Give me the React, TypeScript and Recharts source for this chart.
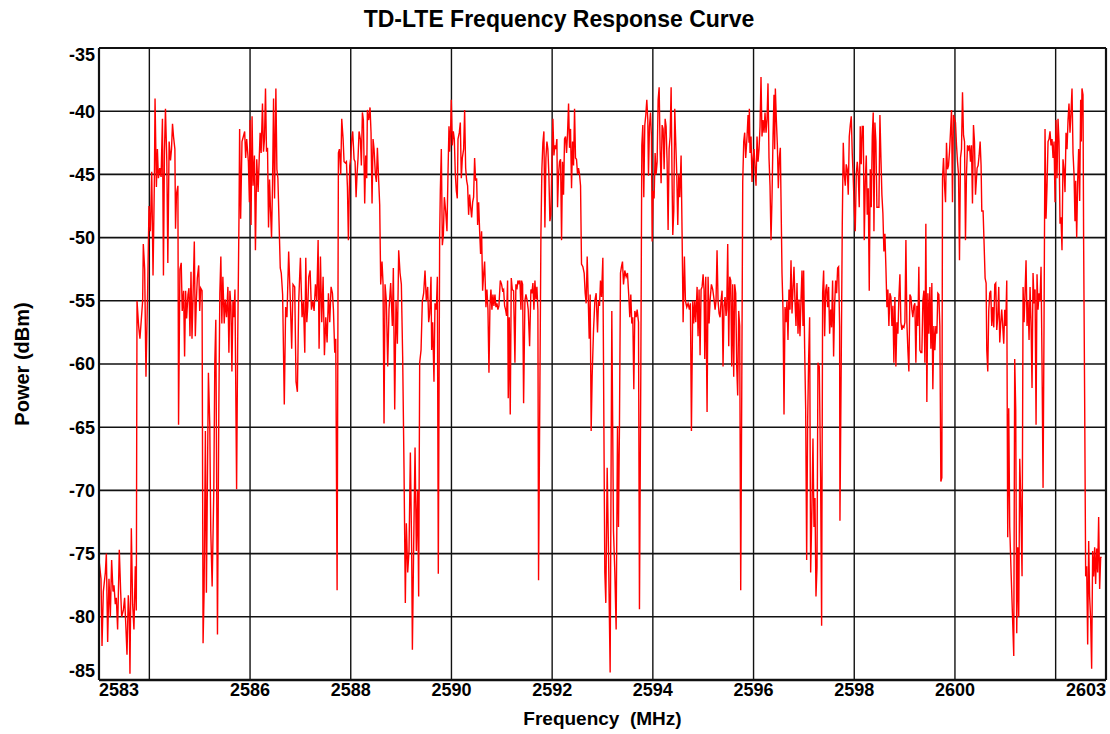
import React from 'react';
import { LineChart, Line, XAxis, YAxis, ReferenceLine } from 'recharts';

// Axis ticks and grid positions
const X_TICKS = [2583, 2586, 2588, 2590, 2592, 2594, 2596, 2598, 2600, 2603];
const X_GRID = [2584, 2586, 2588, 2590, 2592, 2594, 2596, 2598, 2600, 2602];
const Y_TICKS = [-85, -80, -75, -70, -65, -60, -55, -50, -45, -40, -35];
const Y_GRID = [-40, -45, -50, -55, -60, -65, -70, -75, -80];

const SEG_2583 = [
  [2583.0, -75.5], [2583.04, -77], [2583.06, -82.3], [2583.086, -78], [2583.126, -76.5], [2583.146, -75],
  [2583.172, -82], [2583.198, -77], [2583.225, -80], [2583.251, -75.5], [2583.278, -78], [2583.298, -77.5],
  [2583.324, -79], [2583.344, -78.5], [2583.37, -81], [2583.403, -74.7], [2583.43, -78], [2583.45, -80],
  [2583.483, -79.5], [2583.509, -78.5], [2583.536, -81], [2583.556, -83], [2583.582, -78.3], [2583.602, -80],
  [2583.615, -84.5], [2583.642, -73], [2583.668, -79], [2583.694, -81], [2583.721, -76], [2583.741, -79.5],
];

const SEG_2584 = [
  [2583.755, -55], [2583.787, -57], [2583.813, -58], [2583.84, -56.5], [2583.867, -55], [2583.88, -50.5],
  [2583.907, -52.5], [2583.933, -61], [2583.967, -54], [2583.993, -47.5], [2584.02, -49.5], [2584.047, -44.8],
  [2584.073, -53], [2584.1, -45.5], [2584.113, -39], [2584.14, -46], [2584.16, -43], [2584.18, -45.3],
  [2584.207, -44.5], [2584.233, -45.2], [2584.26, -40.6], [2584.28, -53], [2584.3, -43.2], [2584.32, -39.8],
  [2584.347, -44], [2584.367, -52], [2584.393, -42.4], [2584.42, -43.9], [2584.44, -43], [2584.46, -41],
  [2584.48, -42], [2584.507, -43], [2584.52, -49.3], [2584.54, -46.5], [2584.567, -45.9], [2584.58, -64.8],
  [2584.607, -52.5], [2584.633, -52], [2584.653, -55.8], [2584.68, -54.2], [2584.7, -59.4], [2584.72, -54.2],
  [2584.74, -56.4], [2584.767, -54.5], [2584.787, -54], [2584.807, -57.8], [2584.827, -52.7], [2584.847, -58],
  [2584.867, -54.8], [2584.893, -50.3], [2584.913, -57.8], [2584.933, -55.1], [2584.953, -53.2], [2584.98, -52.2],
  [2585.0, -55.8], [2585.02, -54], [2585.047, -54.2],
];

const SEG_2585 = [
  [2585.067, -82.1], [2585.087, -78.1], [2585.113, -65.3], [2585.133, -78.1], [2585.173, -60.7], [2585.2, -64.8],
  [2585.22, -73.2], [2585.247, -77.6], [2585.28, -70], [2585.3, -59.9], [2585.32, -56.5], [2585.353, -81.4],
  [2585.38, -63.5], [2585.4, -54.4], [2585.42, -51.5], [2585.44, -56.8], [2585.46, -53.1], [2585.487, -56.8],
  [2585.507, -54.9], [2585.533, -56.3], [2585.56, -53.9], [2585.58, -59.1], [2585.6, -54.2], [2585.62, -55.4],
  [2585.64, -60.6], [2585.66, -55], [2585.68, -56.3], [2585.7, -54.1], [2585.733, -69.9], [2585.753, -58.9],
  [2585.78, -48.5], [2585.793, -41.4], [2585.813, -48.5], [2585.84, -42.4], [2585.867, -42], [2585.893, -41.6],
  [2585.913, -43.7], [2585.933, -42.2], [2585.967, -44], [2585.987, -47.2], [2586.0, -40.7], [2586.02, -49],
  [2586.04, -40.4], [2586.06, -45.9], [2586.087, -43.5], [2586.107, -51], [2586.133, -43.8], [2586.16, -46.4],
  [2586.18, -44], [2586.2, -41.7], [2586.22, -43.3], [2586.247, -39.4], [2586.267, -43.2], [2586.287, -42.2],
  [2586.307, -38.2], [2586.327, -43.2], [2586.347, -42.9], [2586.367, -49.2], [2586.387, -45.4], [2586.407, -47.9],
  [2586.427, -50], [2586.447, -45.7], [2586.467, -39], [2586.487, -46.9], [2586.513, -38.2], [2586.533, -44.6],
  [2586.553, -45.3], [2586.6, -52.4], [2586.62, -52.8], [2586.647, -54.5], [2586.68, -63.2], [2586.707, -55.5],
  [2586.733, -56.3], [2586.767, -51.1], [2586.8, -55], [2586.827, -58.8], [2586.853, -53.7], [2586.887, -53.9],
  [2586.913, -61.4], [2586.94, -62.2], [2586.967, -55], [2587.0, -51.6], [2587.033, -56.3], [2587.06, -55],
];

const SEG_2587 = [
  [2587.087, -59.1], [2587.107, -51.6], [2587.127, -56.7], [2587.147, -55.4], [2587.166, -53.1], [2587.193, -52.6],
  [2587.219, -55.7], [2587.246, -55], [2587.272, -55.8], [2587.299, -53.7], [2587.325, -55], [2587.352, -50.2],
  [2587.371, -58.8], [2587.398, -51.5], [2587.424, -56.7], [2587.451, -53.1], [2587.477, -59.3], [2587.504, -56.3],
  [2587.53, -58.3], [2587.557, -54.4], [2587.583, -56.7], [2587.609, -53.9], [2587.636, -54.4], [2587.656, -55.7],
  [2587.682, -59.1], [2587.702, -58], [2587.729, -77.9], [2587.755, -43.3], [2587.775, -43], [2587.801, -45],
  [2587.821, -40.6], [2587.848, -42.2], [2587.867, -44], [2587.894, -44.1], [2587.914, -44], [2587.934, -46],
  [2587.953, -50.2], [2587.98, -44.3], [2588.0, -43.7], [2588.02, -42.2], [2588.039, -41.6], [2588.066, -43.8],
  [2588.086, -44], [2588.106, -46.8], [2588.125, -45], [2588.145, -43.7], [2588.165, -41.6], [2588.191, -42.2],
  [2588.211, -44.3], [2588.231, -40.1], [2588.251, -40.7], [2588.277, -47.3], [2588.297, -43.5], [2588.317, -45.3],
  [2588.33, -39.9], [2588.357, -40.7], [2588.383, -39.7], [2588.403, -41.7], [2588.423, -47.3], [2588.443, -42.2],
  [2588.463, -43], [2588.489, -45], [2588.509, -45.6], [2588.529, -42.9], [2588.555, -45.5], [2588.575, -47.4],
  [2588.595, -53.7], [2588.621, -51.9], [2588.641, -53.6], [2588.661, -64.7], [2588.681, -53.7], [2588.707, -55],
  [2588.734, -60.2], [2588.76, -55.7], [2588.793, -53.6], [2588.826, -57], [2588.846, -52.4], [2588.873, -63.6],
  [2588.899, -55], [2588.926, -58.4], [2588.952, -51], [2588.979, -52.8], [2589.005, -53.7], [2589.031, -59.4],
  [2589.058, -68.3], [2589.084, -78.9], [2589.104, -72.6],
];

const SEG_2589 = [
  [2589.131, -76.5], [2589.157, -74.8], [2589.184, -67], [2589.21, -74.8], [2589.224, -82.6], [2589.25, -74.3],
  [2589.277, -66.6], [2589.303, -74.8], [2589.329, -70], [2589.349, -78.4], [2589.369, -59.9], [2589.396, -58.9],
  [2589.422, -55], [2589.448, -54.4], [2589.475, -52.6], [2589.501, -55], [2589.528, -53.9], [2589.548, -56.7],
  [2589.568, -56], [2589.594, -53.1], [2589.607, -58.9], [2589.627, -56.7], [2589.653, -61.4], [2589.673, -55.2],
  [2589.7, -55.7], [2589.72, -53.1], [2589.739, -76.6], [2589.766, -49.8], [2589.779, -46.3], [2589.799, -43],
  [2589.819, -50.6], [2589.839, -49.8], [2589.859, -46.8], [2589.885, -47.9], [2589.911, -49.5], [2589.931, -45],
  [2589.951, -41.2], [2589.964, -43.2], [2589.984, -41.4], [2589.997, -39.1], [2590.017, -42.7], [2590.037, -41.6],
  [2590.057, -42.2], [2590.077, -45], [2590.097, -46.3], [2590.116, -46.9], [2590.13, -42.2], [2590.156, -41.7],
  [2590.176, -40.9], [2590.196, -45.3], [2590.216, -43.7], [2590.242, -43], [2590.262, -39.9], [2590.282, -44.5],
  [2590.302, -45.5], [2590.321, -45.9], [2590.341, -48.2], [2590.361, -46.6], [2590.381, -47.6], [2590.401, -48.4],
  [2590.421, -47.2], [2590.44, -46.8], [2590.46, -43.7], [2590.48, -45.5], [2590.5, -45.3], [2590.52, -49],
  [2590.54, -47.2], [2590.56, -49.5], [2590.579, -51.3], [2590.599, -49.5], [2590.619, -54.2], [2590.639, -52.9],
  [2590.659, -51.9], [2590.685, -55.5], [2590.705, -54.1], [2590.725, -55.7], [2590.745, -60.7], [2590.765, -55.4],
  [2590.784, -54.1], [2590.804, -55.7], [2590.824, -54.5], [2590.844, -55.4], [2590.864, -54.5], [2590.884, -55.5],
  [2590.904, -55.2], [2590.923, -55.7], [2590.943, -55.4], [2590.97, -53.4], [2590.996, -53.7], [2591.016, -54.2],
  [2591.036, -54.1], [2591.056, -55.4], [2591.075, -55.7], [2591.095, -56.2], [2591.115, -53.4], [2591.128, -62.7],
  [2591.148, -56.3], [2591.168, -64], [2591.188, -53.2], [2591.208, -54.1], [2591.234, -54.2], [2591.261, -59.9],
  [2591.28, -53.7], [2591.3, -54.1], [2591.32, -53.4], [2591.34, -53.6], [2591.36, -53.4], [2591.38, -55.7],
];

const SEG_2591 = [
  [2591.393, -53.4], [2591.413, -53.7], [2591.433, -63.1], [2591.459, -55], [2591.479, -54.5], [2591.505, -55],
  [2591.525, -55.7], [2591.552, -58.6], [2591.578, -54.1], [2591.598, -54.4], [2591.618, -53.6], [2591.638, -55.7],
  [2591.658, -53.4], [2591.677, -54.9], [2591.697, -53.9], [2591.717, -55.7], [2591.73, -77.1], [2591.757, -61.5],
  [2591.777, -49.8], [2591.796, -44.6], [2591.816, -42.5], [2591.836, -41.6], [2591.856, -49.2], [2591.876, -43.7],
  [2591.896, -42.4], [2591.915, -43], [2591.935, -45], [2591.955, -48.7], [2591.975, -48.2], [2591.995, -44],
  [2592.015, -40.6], [2592.035, -43.5], [2592.054, -42.7], [2592.074, -43], [2592.094, -42.2], [2592.107, -47.6],
  [2592.127, -45], [2592.147, -44], [2592.167, -43.8], [2592.187, -50.2], [2592.206, -44], [2592.226, -46.6],
  [2592.246, -42.2], [2592.266, -42], [2592.286, -43.3], [2592.306, -41.7], [2592.326, -39.4], [2592.345, -42.9],
  [2592.365, -41.4], [2592.385, -46.1], [2592.405, -42.4], [2592.425, -44.3], [2592.445, -39.8], [2592.464, -43.7],
  [2592.484, -43.8], [2592.504, -45], [2592.524, -44.5], [2592.544, -45], [2592.564, -45.9], [2592.583, -52.1],
  [2592.61, -52.3], [2592.636, -52.8], [2592.656, -54.4], [2592.676, -55.2], [2592.696, -51.5], [2592.716, -54.7],
  [2592.736, -58], [2592.755, -54.5], [2592.775, -65.3], [2592.795, -60.9], [2592.822, -57.3], [2592.848, -55],
  [2592.874, -54.4], [2592.901, -57.5], [2592.921, -55], [2592.941, -55.4], [2592.96, -53.4], [2592.98, -54.7],
  [2593.007, -51.6], [2593.046, -76.5], [2593.066, -78.9], [2593.093, -68.2], [2593.119, -74.8], [2593.152, -84.4],
  [2593.185, -55.8], [2593.218, -73.2], [2593.245, -76.5], [2593.271, -81], [2593.298, -64.9], [2593.317, -72.9],
  [2593.337, -64.9], [2593.357, -52.8], [2593.377, -52.3], [2593.397, -51.9], [2593.417, -53.7], [2593.443, -52.6],
  [2593.47, -53.1], [2593.496, -52.8], [2593.523, -54.7], [2593.542, -56.3], [2593.562, -54.5], [2593.582, -56.8],
  [2593.602, -56.3], [2593.622, -62], [2593.642, -55.8], [2593.668, -56.3], [2593.688, -55.7],
];

const SEG_2593 = [
  [2593.715, -56.7], [2593.734, -79.4], [2593.761, -60.6], [2593.781, -42.7], [2593.801, -41.1], [2593.82, -46.8],
  [2593.84, -41.1], [2593.86, -40.3], [2593.88, -39.1], [2593.9, -40.7], [2593.913, -45.1], [2593.933, -41.2],
  [2593.953, -40.1], [2593.972, -42], [2593.986, -50.3], [2594.006, -46.3], [2594.025, -46.9], [2594.045, -43.3],
  [2594.065, -45], [2594.085, -44], [2594.105, -39.1], [2594.125, -38.1], [2594.144, -43], [2594.164, -45.7],
  [2594.184, -41.1], [2594.204, -41.4], [2594.224, -44.6], [2594.244, -40.6], [2594.263, -41.2], [2594.283, -44],
  [2594.303, -49.4], [2594.323, -43], [2594.343, -42], [2594.363, -38.1], [2594.383, -45.9], [2594.396, -49.8],
  [2594.416, -47.9], [2594.435, -39.8], [2594.455, -42.5], [2594.475, -45], [2594.495, -49], [2594.515, -45],
  [2594.535, -46.8], [2594.561, -43.5], [2594.581, -49.8], [2594.601, -56.7], [2594.627, -51.5], [2594.647, -55],
  [2594.674, -55.5], [2594.7, -55.2], [2594.726, -55.7], [2594.746, -55.2], [2594.766, -65.3], [2594.793, -55],
  [2594.812, -56.8], [2594.832, -55], [2594.852, -56.7], [2594.879, -53.9], [2594.898, -57.8], [2594.918, -54.1],
  [2594.938, -59.3], [2594.958, -54.1], [2594.978, -53.9], [2594.998, -52.9], [2595.017, -54.1], [2595.031, -59.6],
  [2595.051, -53.1], [2595.077, -63.8], [2595.097, -53.1], [2595.117, -56.8], [2595.136, -55], [2595.163, -53.7],
  [2595.189, -54.1], [2595.216, -54.9], [2595.236, -55.7], [2595.255, -55], [2595.275, -51], [2595.295, -55],
  [2595.315, -56], [2595.335, -56.3], [2595.355, -55], [2595.375, -54.2], [2595.394, -60.2], [2595.414, -55.4],
  [2595.434, -54.7], [2595.454, -56.2], [2595.467, -55.7], [2595.487, -50.5], [2595.507, -58.6], [2595.527, -53.1],
  [2595.547, -53.4], [2595.566, -60.2], [2595.586, -53.7], [2595.606, -61], [2595.626, -53.7], [2595.646, -54.4],
  [2595.666, -60.2], [2595.685, -62.5], [2595.705, -55.8], [2595.725, -57], [2595.745, -77.9], [2595.765, -62.8],
  [2595.785, -45.6], [2595.805, -42.4], [2595.824, -41.7], [2595.844, -43.7], [2595.871, -42], [2595.891, -40.3],
  [2595.91, -42.5],
];

const SEG_2596 = [
  [2595.917, -39.8], [2595.93, -43.3], [2595.95, -42], [2595.97, -45.6], [2595.99, -43.7], [2596.01, -43],
  [2596.029, -44.5], [2596.049, -45.9], [2596.069, -42], [2596.089, -44], [2596.109, -43], [2596.129, -41.2],
  [2596.148, -37.3], [2596.168, -42], [2596.188, -40.7], [2596.208, -41.7], [2596.228, -40.1], [2596.248, -41.7],
  [2596.268, -40.6], [2596.287, -37.8], [2596.307, -43.7], [2596.327, -45.9], [2596.347, -50.2], [2596.367, -46.8],
  [2596.387, -42], [2596.406, -38.7], [2596.42, -43], [2596.433, -38.2], [2596.453, -40.7], [2596.473, -42.7],
  [2596.492, -46.1], [2596.512, -43.7], [2596.532, -42.9], [2596.545, -46.8], [2596.565, -52.8], [2596.585, -55.7],
  [2596.605, -64], [2596.625, -55.5], [2596.645, -56.7], [2596.664, -55], [2596.684, -58.1], [2596.704, -54.1],
  [2596.724, -55.7], [2596.744, -51.8], [2596.764, -56], [2596.783, -54.1], [2596.803, -52.3], [2596.823, -55],
  [2596.843, -57], [2596.863, -53.6], [2596.883, -57.6], [2596.902, -54.9], [2596.922, -57.8], [2596.942, -55],
  [2596.962, -52.6], [2596.982, -57], [2596.995, -52.6], [2597.015, -58.8], [2597.035, -63.5], [2597.055, -75.5],
  [2597.074, -64.7], [2597.094, -59.6], [2597.114, -56.3], [2597.134, -76.5], [2597.16, -71.3], [2597.18, -65.9],
  [2597.2, -72.9], [2597.22, -70.6], [2597.24, -78.4], [2597.26, -76.1], [2597.279, -59.9], [2597.306, -60.2],
  [2597.332, -69], [2597.352, -80.7], [2597.372, -54.4], [2597.392, -52.6], [2597.412, -57.8], [2597.431, -54.2],
  [2597.451, -53.7], [2597.471, -55.5], [2597.491, -53.9], [2597.511, -57.6], [2597.531, -55.7], [2597.55, -57.1],
  [2597.57, -53.4], [2597.59, -59.4], [2597.61, -55.4], [2597.63, -53.4], [2597.65, -54.4], [2597.67, -52.4],
  [2597.689, -52.3], [2597.709, -57], [2597.716, -72.4], [2597.742, -59.6], [2597.762, -49], [2597.782, -42.5],
  [2597.802, -45], [2597.822, -45.9], [2597.841, -44.2], [2597.861, -44.6], [2597.881, -46.6], [2597.901, -42],
  [2597.921, -41.1], [2597.941, -40.4], [2597.96, -43.3], [2597.98, -45.3], [2598.0, -47.7], [2598.02, -49.5],
  [2598.04, -45], [2598.06, -44], [2598.08, -45], [2598.099, -47.6], [2598.119, -41.2], [2598.139, -44.2],
  [2598.159, -41.2],
];

const SEG_2598 = [
  [2598.179, -41.2], [2598.199, -50.2], [2598.219, -45.6], [2598.239, -43.5], [2598.258, -48.2], [2598.278, -46.1],
  [2598.298, -54.2], [2598.318, -44.6], [2598.338, -47.6], [2598.358, -42], [2598.377, -40.1], [2598.391, -49.5],
  [2598.41, -40.9], [2598.43, -42.4], [2598.45, -47.6], [2598.47, -47.6], [2598.49, -47.6], [2598.51, -40.3],
  [2598.53, -43.7], [2598.549, -46.6], [2598.569, -48.1], [2598.589, -51.1], [2598.609, -49.7], [2598.629, -52.4],
  [2598.649, -55.5], [2598.668, -54.1], [2598.688, -57], [2598.708, -54.4], [2598.728, -54.7], [2598.748, -57],
  [2598.768, -55.4], [2598.787, -59.9], [2598.807, -54.7], [2598.827, -60.2], [2598.847, -56.7], [2598.867, -57.6],
  [2598.887, -54.7], [2598.907, -52.9], [2598.926, -56.7], [2598.946, -57.3], [2598.966, -57], [2598.986, -57.1],
  [2599.006, -56.7], [2599.026, -50.2], [2599.045, -56.7], [2599.065, -58.9], [2599.085, -60.6], [2599.105, -54.5],
  [2599.125, -54.7], [2599.145, -55.7], [2599.164, -56.3], [2599.184, -55.4], [2599.204, -55.2], [2599.224, -59.9],
  [2599.244, -55.4], [2599.264, -57], [2599.283, -52.3], [2599.303, -58.9], [2599.323, -59.1], [2599.343, -59.1],
  [2599.363, -55], [2599.383, -54.2], [2599.403, -59.9], [2599.422, -48.9], [2599.442, -63], [2599.462, -54.4],
  [2599.482, -57.6], [2599.502, -53.9], [2599.522, -58.8], [2599.541, -53.6], [2599.561, -62], [2599.581, -57],
  [2599.601, -58.9], [2599.621, -57], [2599.641, -57.6], [2599.66, -54.4], [2599.68, -54.5], [2599.7, -57],
  [2599.72, -69.3], [2599.74, -69], [2599.753, -45.3], [2599.773, -43.7], [2599.793, -45.9], [2599.813, -47.2],
  [2599.832, -42.5], [2599.852, -44.6], [2599.872, -44.3], [2599.892, -43.2], [2599.912, -41.6], [2599.932, -39.9],
  [2599.951, -47.2], [2599.971, -40.3], [2599.991, -40.6], [2600.011, -40.9], [2600.031, -42.7], [2600.051, -44],
  [2600.071, -45], [2600.09, -51.8], [2600.11, -43.7], [2600.13, -43], [2600.15, -38.5], [2600.17, -41.9],
  [2600.19, -42.4], [2600.209, -50.2], [2600.229, -45], [2600.249, -42.7], [2600.269, -43], [2600.289, -42.7],
  [2600.309, -44], [2600.328, -42.7], [2600.348, -47.3], [2600.368, -41.1], [2600.388, -42.4], [2600.408, -46.6],
];

const SEG_2600 = [
  [2600.44, -44.5], [2600.46, -44.3], [2600.48, -43.5], [2600.5, -42.4], [2600.519, -44.3], [2600.533, -47.9],
  [2600.559, -47.9], [2600.579, -50.5], [2600.599, -53.2], [2600.619, -53.6], [2600.632, -58.9], [2600.652, -60.6],
  [2600.671, -55.8], [2600.691, -54.4], [2600.711, -54.2], [2600.731, -57], [2600.751, -55.5], [2600.771, -57.1],
  [2600.791, -53.7], [2600.81, -53.6], [2600.83, -57.3], [2600.85, -56.3], [2600.87, -53.9], [2600.89, -58.3],
  [2600.91, -56.7], [2600.929, -55.7], [2600.949, -57], [2600.969, -58.4], [2600.989, -55.7], [2601.009, -57],
  [2601.029, -53.4], [2601.048, -73.7], [2601.068, -63.5], [2601.088, -72.9], [2601.115, -76.5], [2601.141, -79.7],
  [2601.168, -83.1], [2601.187, -59.6], [2601.207, -63.6], [2601.227, -81.3], [2601.247, -74.5], [2601.267, -80],
  [2601.287, -67.5], [2601.306, -70.6], [2601.333, -76.8], [2601.353, -53.9], [2601.373, -56.7], [2601.392, -54.4],
  [2601.412, -51.8], [2601.432, -57], [2601.452, -55], [2601.472, -58.1], [2601.492, -53.9], [2601.511, -56.7],
  [2601.531, -61.9], [2601.551, -52.8], [2601.571, -55.2], [2601.591, -54.1], [2601.611, -64.8], [2601.63, -52.9],
  [2601.65, -55.7], [2601.67, -54.4], [2601.69, -55], [2601.71, -52.3], [2601.73, -60.2], [2601.75, -69.8],
  [2601.769, -57], [2601.789, -41.4], [2601.809, -48.5], [2601.829, -45.9], [2601.849, -42.4], [2601.869, -42.2],
  [2601.888, -41.6], [2601.908, -42.7], [2601.928, -42.2], [2601.948, -43.7], [2601.968, -42.4], [2601.988, -47.2],
  [2602.007, -40.7], [2602.027, -45.3], [2602.047, -40.6], [2602.067, -42.4], [2602.087, -48.9], [2602.107, -48.4],
  [2602.126, -51], [2602.146, -43.8], [2602.166, -44.6], [2602.186, -46.4], [2602.206, -41.7], [2602.226, -43],
  [2602.246, -40.7], [2602.265, -39.4], [2602.285, -41.7], [2602.305, -40.1], [2602.325, -38.2], [2602.345, -43.3],
  [2602.365, -45], [2602.384, -48.7], [2602.398, -45.5], [2602.418, -50], [2602.437, -45.6], [2602.457, -43],
  [2602.477, -47.1], [2602.497, -39.1], [2602.51, -42.4], [2602.523, -38.2], [2602.543, -38.7], [2602.556, -50.5],
  [2602.576, -62.8], [2602.596, -76.8], [2602.616, -76], [2602.636, -82.2], [2602.656, -74], [2602.675, -78.4],
  [2602.695, -80.2], [2602.715, -84.1], [2602.735, -74.8], [2602.755, -76.8], [2602.775, -74.5], [2602.794, -77.4],
  [2602.814, -74.6], [2602.834, -76.5], [2602.854, -72.1], [2602.874, -77.8], [2602.894, -75.3], [2602.914, -75.3],
];

const SEGMENTS = [
  SEG_2583, SEG_2584, SEG_2585, SEG_2587, SEG_2589, SEG_2591,
  SEG_2593, SEG_2596, SEG_2598, SEG_2600,
];

const data = SEGMENTS.flat().map(([f, p]) => ({ f, p }));

const FONT = '"Liberation Sans", Arial, Helvetica, sans-serif';
const INK = '#000';

function XTick(props: any) {
  const { x, y, payload } = props;
  const v = payload.value;
  let anchor = 'middle';
  if (v === X_TICKS[0]) anchor = 'start';
  if (v === X_TICKS[X_TICKS.length - 1]) anchor = 'end';
  return (
    <text x={x} y={y} dy="0.71em" textAnchor={anchor} fontFamily={FONT} fontWeight="bold" fontSize={18} fill={INK}>
      {v}
    </text>
  );
}

function YTick(props: any) {
  const { x, y, payload } = props;
  const v = payload.value;
  // end labels are pulled inside the frame
  let shift = 0;
  if (v === -35) shift = 7;
  if (v === -85) shift = -9;
  return (
    <text x={x} y={y + shift} dy="0.355em" textAnchor="end" fontFamily={FONT} fontWeight="bold" fontSize={18} fill={INK}>
      {v}
    </text>
  );
}

export default function App() {
  return (
    <div style={{ position: 'absolute', left: 0, top: 0, width: 1110, height: 734, background: '#fff' }}>
      <div
        style={{
          position: 'absolute',
          left: 4,
          top: 8,
          width: 1110,
          textAlign: 'center',
          fontFamily: FONT,
          fontWeight: 'bold',
          fontSize: 23,
          lineHeight: '23px',
          color: INK,
        }}
      >
        TD-LTE Frequency Response Curve
      </div>
      <LineChart width={1110} height={734} data={data} margin={{ top: 48, right: 4, bottom: 0, left: 0 }}>
        <XAxis
          dataKey="f"
          type="number"
          domain={[2583, 2603]}
          ticks={X_TICKS}
          interval={0}
          allowDataOverflow
          axisLine={false}
          tickLine={false}
          tickSize={0}
          tickMargin={3}
          height={54}
          tick={<XTick />}
          label={{
            value: 'Frequency\u00A0 (MHz)',
            position: 'insideBottom',
            offset: 9,
            style: { fontFamily: FONT, fontWeight: 'bold', fontSize: 19, fill: INK },
          }}
        />
        <YAxis
          type="number"
          domain={[-85, -35]}
          ticks={Y_TICKS}
          interval={0}
          allowDataOverflow
          axisLine={false}
          tickLine={false}
          tickSize={0}
          tickMargin={4}
          width={99}
          tick={<YTick />}
          label={{
            value: 'Power (dBm)',
            angle: -90,
            position: 'insideLeft',
            offset: 22,
            style: { fontFamily: FONT, fontWeight: 'bold', fontSize: 20, fill: INK, textAnchor: 'middle' },
          }}
        />
        {X_GRID.map((g) => (
          <ReferenceLine key={`vx${g}`} x={g} stroke="#111" strokeWidth={1.4} />
        ))}
        {Y_GRID.map((g) => (
          <ReferenceLine key={`hy${g}`} y={g} stroke="#111" strokeWidth={1.6} />
        ))}
        <Line
          type="linear"
          dataKey="p"
          stroke="#ff0000"
          strokeWidth={1.4}
          dot={false}
          activeDot={false}
          isAnimationActive={false}
        />
        <ReferenceLine x={2583} stroke="#111" strokeWidth={2.2} />
        <ReferenceLine x={2603} stroke="#111" strokeWidth={2.2} />
        <ReferenceLine y={-35} stroke="#111" strokeWidth={2.2} />
        <ReferenceLine y={-85} stroke="#111" strokeWidth={2.5} />
      </LineChart>
    </div>
  );
}
